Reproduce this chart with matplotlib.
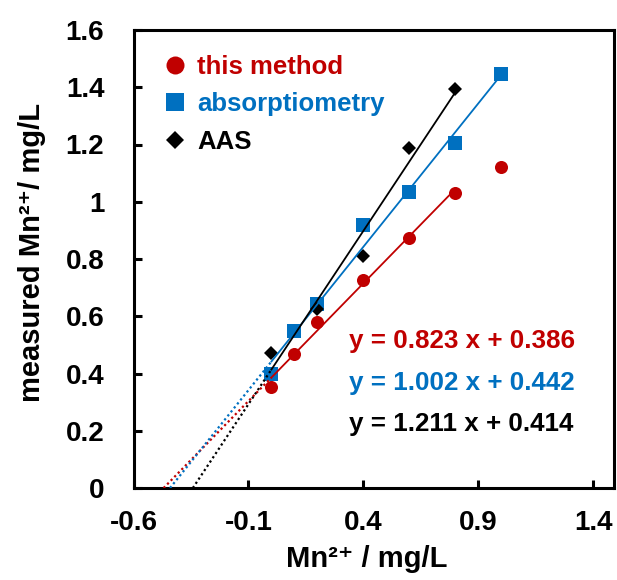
import numpy as np
import matplotlib
matplotlib.use("Agg")
import matplotlib.pyplot as plt

plt.rcParams['font.family'] = ['Liberation Sans', 'DejaVu Sans']
plt.rcParams['font.weight'] = 'bold'

RED = '#C00000'
BLUE = '#0070C0'
BLACK = '#000000'

# spiked Mn2+ (mg/L) and measured values for each method
x_this = [0.0, 0.1, 0.2, 0.4, 0.6, 0.8, 1.0]
y_this = [0.352, 0.469, 0.579, 0.727, 0.875, 1.030, 1.122]
x_abs = [0.0, 0.1, 0.2, 0.4, 0.6, 0.8, 1.0]
y_abs = [0.397, 0.548, 0.643, 0.920, 1.035, 1.206, 1.445]
x_aas = [0.0, 0.2, 0.4, 0.6, 0.8]
y_aas = [0.471, 0.624, 0.812, 1.187, 1.395]

# linear fits (slope, intercept) and the last x covered by each fit
slope_this, icpt_this, end_this = 0.823, 0.386, 0.8
slope_abs, icpt_abs, end_abs = 1.002, 0.442, 1.0
slope_aas, icpt_aas, end_aas = 1.211, 0.414, 0.8

labels = ['this method', 'absorptiometry', 'AAS']
x_ticks = [-0.6, -0.1, 0.4, 0.9, 1.4]
y_ticks = [0, 0.2, 0.4, 0.6, 0.8, 1.0, 1.2, 1.4, 1.6]

fig = plt.figure(figsize=(6.17, 5.80), dpi=100)
ax = fig.add_axes([133.5 / 617, (580 - 488) / 580, (614 - 133.5) / 617, (488 - 30) / 580])

series = [
    (x_this, y_this, 'o', 9.4, RED, slope_this, icpt_this, end_this),
    (x_abs, y_abs, 's', 9.4, BLUE, slope_abs, icpt_abs, end_abs),
    (x_aas, y_aas, 'D', 6.8, BLACK, slope_aas, icpt_aas, end_aas),
]

handles = []
for (xs, ys, mk, ms, col, k, b, xe) in series:
    h, = ax.plot(xs, ys, linestyle='none', marker=mk, markersize=ms,
                 color=col, markeredgewidth=0, zorder=3)
    handles.append(h)
    # fitted line over the data range
    xf = np.array([0.0, xe])
    ax.plot(xf, k * xf + b, color=col, lw=1.3, zorder=4)
    # back-extrapolation to the x-intercept
    x0 = -b / k
    xd = np.array([x0, 0.0])
    ax.plot(xd, k * xd + b, color=col, lw=1.6, linestyle=(0, (1, 1.3)), zorder=4)

leg = ax.legend(handles, labels, loc='upper left', bbox_to_anchor=(0.06, 0.946),
                frameon=False, fontsize=18.5, handlelength=1.0, handletextpad=0.36,
                labelspacing=0.53, borderpad=0, borderaxespad=0, markerscale=1.38,
                labelcolor=[RED, BLUE, BLACK])

eqs = [(slope_this, icpt_this, RED, 0.305),
       (slope_abs, icpt_abs, BLUE, 0.214),
       (slope_aas, icpt_aas, BLACK, 0.1245)]
for k, b, col, yy in eqs:
    ax.text(0.448, yy, f'y = {k:.3f} x + {b:.3f}', transform=ax.transAxes,
            color=col, fontsize=18.7, fontweight='bold', ha='left', va='baseline')

ax.set_xlim(-0.6, 1.49)
ax.set_ylim(0, 1.6)
ax.set_xticks(x_ticks)
ax.set_xticklabels([f'{v:g}' for v in x_ticks])
ax.set_yticks(y_ticks)
ax.set_yticklabels([f'{v:g}' for v in y_ticks])

for sp in ax.spines.values():
    sp.set_linewidth(2.2)
ax.tick_params(axis='both', direction='in', length=6, width=2.2, labelsize=20)
ax.tick_params(axis='y', pad=21)
ax.tick_params(axis='x', pad=16)

ax.set_xlabel('Mn\u00b2\u207a / mg/L', fontsize=21, fontweight='bold', labelpad=6)
ax.set_ylabel('measured Mn\u00b2\u207a/ mg/L', fontsize=21, fontweight='bold', labelpad=14)
ax.xaxis.label.set_x(0.485)
ax.yaxis.label.set_y(0.515)

fig.savefig('out.png', dpi=100)
